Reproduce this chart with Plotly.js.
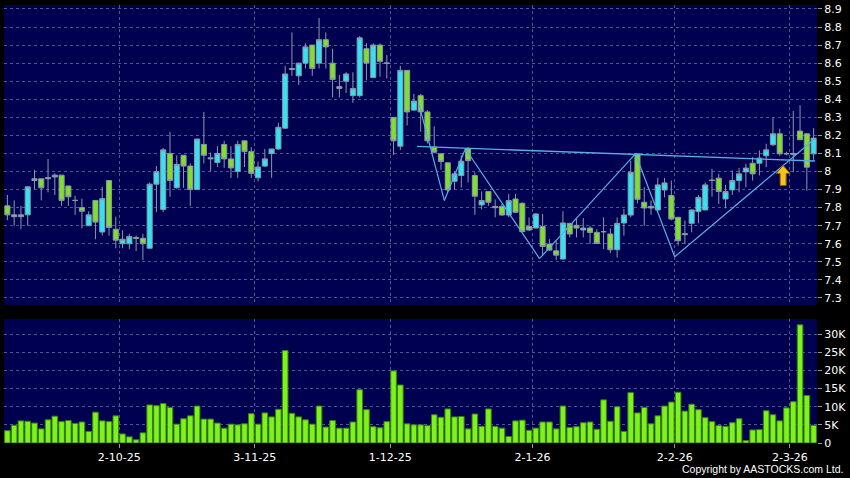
<!DOCTYPE html>
<html>
<head>
<meta charset="utf-8">
<script src="https://cdn.plot.ly/plotly-3.0.1.min.js"></script>
<style>
html,body{margin:0;padding:0;background:#000;}
#chart{width:850px;height:478px;}
</style>
</head>
<body>
<div id="chart"></div>
<script>
// ---------- DATA ----------
const dates = [
"2025-09-08","2025-09-09","2025-09-10","2025-09-11","2025-09-12","2025-09-15","2025-09-16","2025-09-17","2025-09-18","2025-09-19",
"2025-09-22","2025-09-23","2025-09-24","2025-09-25","2025-09-26","2025-09-29","2025-09-30",
"2025-10-02","2025-10-03","2025-10-06","2025-10-08","2025-10-09","2025-10-10","2025-10-13","2025-10-14","2025-10-15","2025-10-16",
"2025-10-17","2025-10-20","2025-10-21","2025-10-22","2025-10-23","2025-10-24","2025-10-27","2025-10-28","2025-10-30","2025-10-31",
"2025-11-03","2025-11-04","2025-11-05","2025-11-06","2025-11-07","2025-11-10","2025-11-11","2025-11-12","2025-11-13","2025-11-14",
"2025-11-17","2025-11-18","2025-11-19","2025-11-20","2025-11-21","2025-11-24","2025-11-25","2025-11-26","2025-11-27","2025-11-28",
"2025-12-01","2025-12-02","2025-12-03","2025-12-04","2025-12-05","2025-12-08","2025-12-09","2025-12-10","2025-12-11","2025-12-12",
"2025-12-15","2025-12-16","2025-12-17","2025-12-18","2025-12-19","2025-12-22","2025-12-23","2025-12-24","2025-12-29","2025-12-30","2025-12-31",
"2026-01-02","2026-01-05","2026-01-06","2026-01-07","2026-01-08","2026-01-09","2026-01-12","2026-01-13","2026-01-14","2026-01-15",
"2026-01-16","2026-01-19","2026-01-20","2026-01-21","2026-01-22","2026-01-23","2026-01-26","2026-01-27","2026-01-28","2026-01-29","2026-01-30",
"2026-02-02","2026-02-03","2026-02-04","2026-02-05","2026-02-06","2026-02-09","2026-02-10","2026-02-11","2026-02-12","2026-02-13",
"2026-02-16","2026-02-20","2026-02-23","2026-02-24","2026-02-25","2026-02-26","2026-02-27",
"2026-03-02","2026-03-03","2026-03-04","2026-03-05"
];

const openP = [
7.81,7.76,7.75,7.76,7.95,7.96,7.96,7.97,7.98,7.92,
7.84,7.80,7.70,7.84,7.665,7.95,7.68,7.60,7.60,7.635,
7.63,7.575,7.93,7.79,8.10,7.91,8.09,8.03,7.90,8.15,
8.07,8.05,8.15,8.07,8.00,8.17,8.11,7.965,8.03,8.10,
8.125,8.24,8.565,8.53,8.60,8.70,8.60,8.73,8.60,8.47,
8.50,8.42,8.42,8.68,8.52,8.70,8.60,8.30,8.14,8.56,
8.34,8.42,8.33,8.135,8.098,8.048,7.946,7.978,8.126,7.978,
7.815,7.889,7.807,7.807,7.759,7.848,7.824,7.696,7.687,7.696,
7.598,7.561,7.515,7.713,7.702,7.676,7.687,7.663,7.667,7.654,
7.567,7.715,7.759,8.098,7.83,7.798,7.787,7.898,7.867,7.746,
7.65,7.713,7.778,7.787,7.95,7.963,7.848,7.898,7.95,7.998,
8.046,8.046,8.087,8.148,8.209,8.10,8.094,8.224,8.209,8.098
];
const highP = [
7.87,7.84,7.81,7.92,8.01,7.96,8.07,7.99,7.98,7.92,
7.865,7.85,7.78,7.84,7.915,7.95,7.75,7.675,7.655,7.645,
7.655,7.94,8.03,8.13,8.22,8.09,8.09,8.045,8.18,8.33,
8.105,8.14,8.17,8.14,8.17,8.17,8.135,8.055,8.125,8.125,
8.27,8.585,8.77,8.60,8.71,8.70,8.85,8.77,8.68,8.535,
8.55,8.55,8.75,8.71,8.71,8.71,8.645,8.30,8.585,8.56,
8.43,8.43,8.34,8.25,8.10,8.05,8.00,8.09,8.135,7.996,
7.89,7.889,7.845,7.82,7.876,7.876,7.83,7.746,7.77,7.765,
7.626,7.617,7.78,7.715,7.737,7.743,7.70,7.68,7.746,7.685,
7.746,7.793,8.06,8.098,7.913,7.84,7.965,7.965,7.95,7.75,
7.728,7.79,7.87,7.94,8.015,7.987,7.926,8.006,8.02,8.043,
8.08,8.117,8.154,8.298,8.237,8.11,8.335,8.367,8.21,8.24
];
const lowP = [
7.73,7.70,7.68,7.70,7.90,7.84,7.885,7.87,7.81,7.81,
7.76,7.685,7.70,7.625,7.645,7.645,7.575,7.575,7.57,7.56,
7.51,7.575,7.775,7.775,7.86,7.905,7.91,7.81,7.90,8.045,
8.00,8.025,8.02,7.965,7.965,8.025,7.965,7.945,8.025,7.965,
8.12,8.235,8.53,8.48,8.57,8.53,8.57,8.57,8.41,8.41,
8.435,8.38,8.41,8.505,8.52,8.525,8.515,8.09,8.12,8.255,
8.335,8.22,8.155,8.10,8.01,7.885,7.90,7.91,7.94,7.76,
7.79,7.81,7.746,7.755,7.746,7.77,7.667,7.67,7.687,7.533,
7.56,7.51,7.515,7.635,7.635,7.635,7.598,7.60,7.57,7.548,
7.524,7.645,7.746,7.824,7.70,7.76,7.78,7.857,7.73,7.59,
7.598,7.663,7.713,7.787,7.861,7.82,7.796,7.87,7.885,7.913,
7.95,7.978,8.024,8.14,8.087,8.09,7.996,8.176,7.894,8.065
];
const closeP = [
7.76,7.75,7.76,7.915,7.96,7.91,7.965,7.98,7.84,7.86,
7.84,7.78,7.76,7.72,7.85,7.69,7.62,7.625,7.64,7.63,
7.60,7.93,8.00,8.12,7.95,8.04,8.03,7.90,8.18,8.09,
8.075,8.10,8.07,8.02,8.15,8.11,7.99,8.025,8.07,8.125,
8.245,8.54,8.57,8.60,8.69,8.57,8.73,8.69,8.51,8.46,
8.54,8.46,8.74,8.60,8.70,8.61,8.60,8.17,8.56,8.33,
8.39,8.33,8.17,8.107,8.055,7.898,7.987,8.057,8.06,7.863,
7.839,7.83,7.80,7.759,7.839,7.774,7.667,7.676,7.765,7.585,
7.565,7.537,7.715,7.654,7.687,7.687,7.663,7.602,7.667,7.567,
7.713,7.759,7.996,7.846,7.798,7.807,7.926,7.937,7.737,7.617,
7.655,7.787,7.857,7.926,7.952,7.889,7.889,7.95,7.987,8.019,
7.987,8.074,8.12,8.209,8.098,8.098,8.10,8.176,8.024,8.185
];
const volume = [
3400,4900,6100,6000,5500,3900,6400,7400,5900,6200,
5400,5800,3200,8500,6100,5900,7500,2500,1700,900,
2800,10500,10300,10900,9800,5200,6700,7500,10200,6600,
6600,5500,4100,5200,5000,5300,8100,5200,8300,7200,
9300,25500,8200,7200,6400,5200,10200,4400,6200,4100,
4100,5800,14700,9200,4500,4200,5900,19900,16000,5300,
5000,5000,4800,7800,7100,9400,7200,7300,3900,8000,
4600,9400,4600,4100,1800,6100,6300,3500,4100,5800,
5800,3900,10200,4300,4500,5600,5800,3800,11900,6000,
10000,3200,13900,8300,9800,5300,7500,10200,11300,14000,
8800,10700,9200,7000,5900,4800,4600,5600,6700,700,
3600,3700,8900,7800,6100,9700,11400,32600,13100,4900
];

// x-axis label dates and texts
const tickDates = ["2025-10-02","2025-11-03","2025-12-01","2026-01-02","2026-02-02","2026-03-02"];
const tickLabels = ["2-10-25","3-11-25","1-12-25","2-1-26","2-2-26","2-3-26"];

// volume axis labels
const volTicks = [0,5000,10000,15000,20000,25000,30000];
const volLabels = ["0","5K","10K","15K","20K","25K","30K"];

// drawn pattern (category index, price)
const patternIdx   = [60.7, 64.5, 67.6, 78.55, 92.7, 98.5, 118.9];
const patternPrice = [8.38, 7.839, 8.126, 7.518, 8.098, 7.528, 8.172];
const necklineIdx   = [60.45, 119.2];
const necklinePrice = [8.139, 8.058];
const arrowIdx = 114.5, arrowPrice = 7.978;

// ---------- STYLE ----------
const navy = '#000050';
const gridCol = '#4d5a8c';
const fontFam = 'DejaVu Sans, Verdana, sans-serif';

const candle = {
  type:'candlestick', x:dates, open:openP, high:highP, low:lowP, close:closeP,
  xaxis:'x', yaxis:'y',
  increasing:{fillcolor:'#31e4f2', line:{color:'#8c98a8', width:1}},
  decreasing:{fillcolor:'#80e028', line:{color:'#8c98a8', width:1}},
  whiskerwidth:0, hoverinfo:'skip', showlegend:false
};
const bars = {
  type:'bar', x:dates, y:volume, xaxis:'x', yaxis:'y2',
  marker:{color:'#7cf41c', line:{color:'#3d7d12', width:1}},
  hoverinfo:'skip', showlegend:false
};

const shapes = [];
for (let i=0;i<patternIdx.length-1;i++){
  shapes.push({type:'line', xref:'x', yref:'y',
    x0:patternIdx[i], y0:patternPrice[i], x1:patternIdx[i+1], y1:patternPrice[i+1],
    line:{color:'#5aaee6', width:1.2}});
}
shapes.push({type:'line', xref:'x', yref:'y',
  x0:necklineIdx[0], y0:necklinePrice[0], x1:necklineIdx[1], y1:necklinePrice[1],
  line:{color:'#5aaee6', width:1.4}});
shapes.push({type:'path', xref:'x', yref:'y', xsizemode:'pixel', ysizemode:'pixel',
  xanchor:arrowIdx, yanchor:arrowPrice,
  path:'M 0 10 L 7 2 L 3 2 L 3 -10 L -3 -10 L -3 2 L -7 2 Z',
  fillcolor:'#f7c21a', line:{color:'#8a6200', width:1}});

const tickVals = tickDates.map(d => dates.indexOf(d) - 0.5);

const layout = {
  width:850, height:478,
  paper_bgcolor:'#000', plot_bgcolor:navy,
  margin:{l:4, r:33, t:5, b:35},
  showlegend:false,
  boxgap:0.25, boxgroupgap:0, bargap:0.17,
  font:{family:fontFam, color:'#fff', size:11},
  xaxis:{
    type:'category', range:[-0.5, dates.length-0.5], anchor:'y2',
    tickmode:'array', tickvals:tickVals, ticktext:tickLabels,
    ticks:'outside', ticklen:4, tickcolor:'#999',
    showgrid:true, gridcolor:gridCol, griddash:'3px,3px', gridwidth:1,
    showline:false, zeroline:false,
    tickfont:{family:fontFam, color:'#fff', size:11},
    rangeslider:{visible:false}, fixedrange:true
  },
  yaxis:{
    domain:[0.3151, 1], side:'right', range:[7.261, 8.922],
    tick0:7.3, dtick:0.1, ticks:'outside', ticklen:4, tickcolor:'#999',
    showgrid:true, gridcolor:gridCol, griddash:'3px,3px', gridwidth:1,
    zeroline:false, showline:false,
    tickfont:{family:fontFam, color:'#fff', size:11}
  },
  yaxis2:{
    domain:[0, 0.2831], side:'right', range:[0, 34200],
    tickmode:'array', tickvals:volTicks, ticktext:volLabels,
    ticks:'outside', ticklen:4, tickcolor:'#999',
    showgrid:true, gridcolor:gridCol, griddash:'3px,3px', gridwidth:1,
    zeroline:false, showline:false,
    tickfont:{family:fontFam, color:'#fff', size:11}
  },
  shapes:shapes,
  annotations:[{
    xref:'paper', yref:'paper', x:1.034, y:-0.06, xanchor:'right', yanchor:'middle',
    text:'Copyright by AASTOCKS.com Ltd.', showarrow:false,
    font:{family:'Liberation Sans, Arial, sans-serif', size:10.5, color:'#fff'}
  }]
};

Plotly.newPlot('chart', [candle, bars], layout, {displayModeBar:false, staticPlot:true});
</script>
</body>
</html>
